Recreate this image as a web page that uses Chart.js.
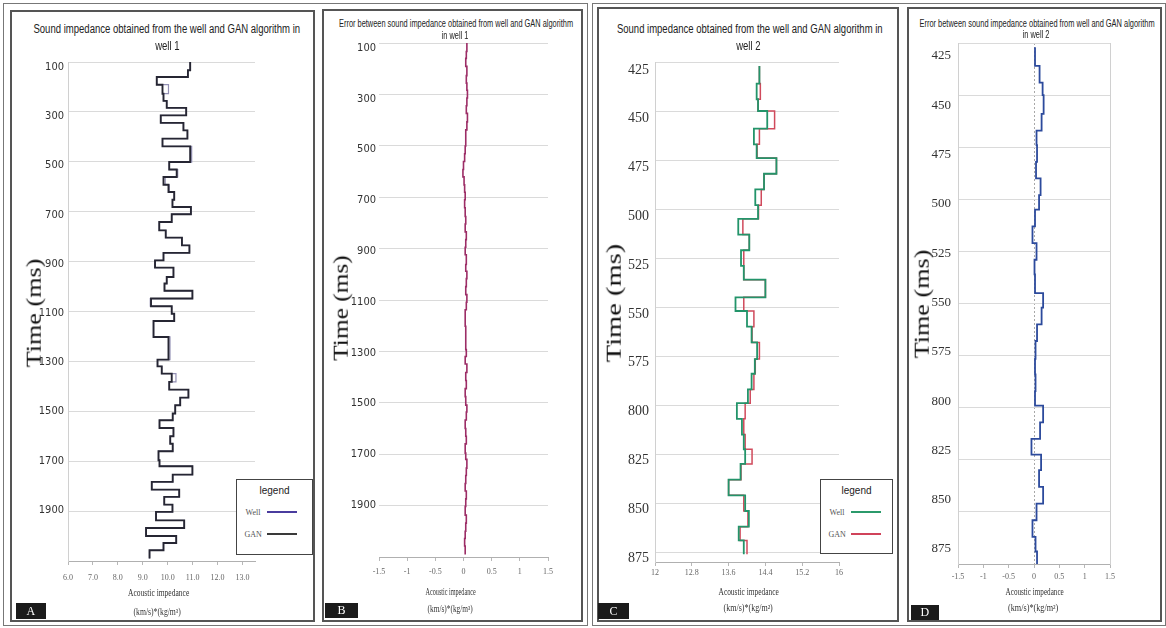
<!DOCTYPE html>
<html><head><meta charset="utf-8">
<script src="https://cdn.jsdelivr.net/npm/chart.js@4.4.1/dist/chart.umd.min.js"></script>
<style>
html,body{margin:0;padding:0;background:#fff;}
body{position:relative;width:1166px;height:628px;overflow:hidden;}
.frame{position:absolute;box-sizing:border-box;}
canvas{position:absolute;}
.tx{position:absolute;white-space:nowrap;line-height:1;transform-origin:50% 50%;}
</style></head><body>
<script>
// ---------------- DATA ----------------
// Panel A / B : well 1 (time in ms, acoustic impedance)
const timeTicks1 = [100,300,500,700,900,1100,1300,1500,1700,1900];
const timeLabels1 = ['100','300','500','700','900','1100','1300','1500','1700','1900'];
const impTicks1 = [6,7,8,9,10,11,12,13];
const impLabels1 = ['6.0','7.0','8.0','9.0','10.0','11.0','12.0','13.0'];
const errTicks = [-1.5,-1,-0.5,0,0.5,1,1.5];
const errLabels = ['-1.5','-1','-0.5','0','0.5','1','1.5'];

const timeA = [100,133,160,191,227,256,284,314,344,374,407,438,501,531,561,592,621,652,681,710,
  741,775,804,835,865,895,924,962,988,1017,1048,1079,1109,1138,1202,1293,1320,1349,1382,1413,
  1445,1476,1509,1536,1567,1600,1630,1660,1696,1720,1754,1783,1814,1843,1874,1903,1937,1968,2000,2028,
  2057,2090];
const ganA = [10.90,10.81,9.56,9.79,9.83,9.96,10.74,9.72,10.63,10.79,9.79,10.90,10.06,10.36,9.83,10.03,10.26,10.19,10.93,10.16,
  9.66,9.92,10.57,10.87,9.83,9.49,10.23,9.96,9.87,10.99,9.33,10.16,10.26,9.43,10.03,9.59,9.76,10.16,10.06,10.83,
  10.50,10.30,10.20,9.67,10.23,10.10,10.20,9.63,9.67,10.99,10.20,9.36,10.46,9.86,10.19,9.53,10.66,9.13,10.34,9.83,
  9.27,9.27];
const wellA = [10.90,10.81,9.56,10.03,9.83,9.96,10.74,9.72,10.63,10.79,9.79,10.96,10.06,10.40,9.90,10.06,10.26,10.19,10.93,10.16,
  9.66,9.92,10.57,10.87,9.83,9.49,10.23,9.96,9.87,10.99,9.30,10.16,10.26,9.43,10.09,9.59,9.76,10.33,10.06,10.83,
  10.50,10.30,10.20,9.67,10.23,10.10,10.20,9.63,9.67,10.99,10.20,9.36,10.46,9.86,10.19,9.53,10.66,9.13,10.34,9.83,
  9.27,9.27];
const errB = [0.06,0.05,0.04,0.06,0.05,0.06,0.07,0.06,0.05,0.07,0.06,0.04,0.03,0.02,0.00,-0.01,0.01,0.02,0.03,0.02,
  0.03,0.04,0.03,0.05,0.04,0.03,0.05,0.04,0.06,0.05,0.04,0.06,0.05,0.03,0.04,0.05,0.03,0.06,0.04,0.05,
  0.03,0.04,0.06,0.05,0.03,0.04,0.05,0.03,0.04,0.06,0.05,0.04,0.03,0.05,0.04,0.03,0.05,0.04,0.03,0.02,
  0.03,0.03];

// Panel C / D : well 2
const timeTicks2 = [425,450,475,500,525,550,575,600,625,650,675];
const timeLabels2 = ['425','450','475','500','525','550','575','800','825','850','875'];
const impTicks2 = [12,12.8,13.6,14.4,15.2,16];
const impLabels2 = ['12','12.8','13.6','14.4','15.2','16'];

const timeC = [427,436,444,450,459,467,474,482,490,498,505,513,521,529,536,545,552,560,568,576.5,
  584,592,599,607,615,622.5,630,638,646,654,662,669,676];
const wellC = [14.27,14.21,14.24,14.44,14.15,14.21,14.64,14.37,14.18,14.24,13.81,14.05,13.87,13.93,14.40,13.75,14.00,14.10,14.22,14.17,
  14.10,14.02,13.78,13.89,13.93,13.96,13.86,13.60,13.96,14.04,13.82,13.93,13.93];
const ganC = [14.27,14.29,14.24,14.60,14.27,14.22,14.64,14.37,14.31,14.25,13.91,14.05,13.93,13.93,14.40,13.93,14.15,14.11,14.27,14.18,
  14.15,14.07,13.96,13.93,13.96,14.11,13.87,13.60,13.93,14.02,13.85,14.00,14.00];
const errD = [0.02,0.11,0.17,0.19,0.15,0.05,0.06,0.04,0.13,0.10,0.02,-0.03,0.05,0.01,0.02,0.18,0.15,0.06,0.03,0.02,
  0.03,0.02,0.18,0.12,-0.05,0.14,0.10,0.18,0.05,-0.03,0.03,0.06,0.06];

// ---------------- HELPERS ----------------
function hasFont(f){
  const c=document.createElement('canvas').getContext('2d');
  const s='abcdefghijklmnopqrstuvwxyz0123456789';
  c.font='20px monospace'; const a=c.measureText(s).width;
  c.font='20px "'+f+'", monospace'; const b=c.measureText(s).width;
  return Math.abs(a-b)>0.5;
}
const SERIF='"Liberation Serif","DejaVu Serif",serif';
const SANS='"Liberation Sans","Open Sans",sans-serif';
let NARROW=SERIF;
for(const f of ['Liberation Sans Narrow','DejaVu Sans Condensed','Roboto Condensed']){ if(hasFont(f)){NARROW='"'+f+'"';break;} }

function box(x0,y0,x1,y1,border,bg){
  const d=document.createElement('div'); d.className='frame';
  Object.assign(d.style,{left:x0+'px',top:y0+'px',width:(x1-x0)+'px',height:(y1-y0)+'px',border:border||'none',background:bg||'transparent'});
  document.body.appendChild(d); return d;
}
function put(s,cx,cy,o){
  const d=document.createElement('div'); d.className='tx'; d.textContent=s;
  d.style.font=o.font; d.style.color=o.color||'#222';
  document.body.appendChild(d);
  const w=d.offsetWidth,h=d.offsetHeight;
  let sx=o.sx||1; if(o.w) sx=o.w/w;
  d.style.left=(cx-w/2)+'px'; d.style.top=(cy-h/2)+'px';
  d.style.transform=(o.rot?'rotate('+o.rot+'deg) ':'')+'scaleX('+sx+')';
  return sx;
}
function hline(x0,x1,y,col,wd){ box(x0,y-wd/2,x1,y+wd/2,null,col); }
function steps(times,vals){ return times.map((t,i)=>({x:vals[i],y:t})); }

function panelChart(g){
  const cv=document.createElement('canvas');
  cv.width=g.cw; cv.height=g.ch;
  Object.assign(cv.style,{left:g.cx+'px',top:g.cy+'px',width:g.cw+'px',height:g.ch+'px'});
  document.body.appendChild(cv);
  const nY=g.yticks.length;
  // label axis range so that first/last labels sit at the requested heights
  const [p0,p1]=g.ylab;
  const v0=g.yticks[0], v1=g.yticks[nY-1];
  const k=(v1-v0)/(p1-p0);
  const lmin=v0-(p0-g.ay0)*k, lmax=v1+(g.ay1-p1)*k;
  const scales={
    x:{type:'linear',position:'bottom',min:g.xmin,max:g.xmax,
      afterBuildTicks:s=>{s.ticks=g.xticks.map(v=>({value:v}));},
      afterFit:s=>{s.height=g.cy+g.ch-g.ay1;s.paddingLeft=0;s.paddingRight=0;},
      grid:Object.assign({display:true,drawOnChartArea:false,drawTicks:true,tickLength:4,tickColor:'#b8b8b8',color:'#b8b8b8'},g.xgrid||{}),
      border:Object.assign({display:true,color:'#b0b0b0',width:1},g.xborder||{}),
      ticks:{autoSkip:false,maxRotation:0,minRotation:0,font:{family:SERIF,size:8},color:'#666',padding:g.xpad,
        callback:(v,i)=>g.xlabels[i]}
    },
    y:{type:'linear',position:'left',reverse:true,min:g.ymin,max:g.ymax,weight:0,
      afterBuildTicks:s=>{s.ticks=g.yticks.map(v=>({value:v}));},
      afterFit:s=>{s.width=0;s.paddingTop=0;s.paddingBottom=0;},
      grid:{color:'#dadada',lineWidth:1,drawTicks:false},
      border:{display:g.yborder,color:'#d0d0d0'},
      ticks:{display:false}
    },
    yl:{type:'linear',position:'left',reverse:true,min:lmin,max:lmax,weight:1,
      afterBuildTicks:s=>{s.ticks=g.yticks.map(v=>({value:v}));},
      afterFit:s=>{s.width=g.ax0-g.cx;s.paddingTop=0;s.paddingBottom=0;},
      grid:{display:false,drawTicks:false,tickLength:0},border:{display:false},
      ticks:{autoSkip:false,font:g.yfont,color:'#333',padding:g.ypad,callback:(v,i)=>g.ylabels[i]}
    }
  };
  if(g.rightBorder){
    scales.y2={type:'linear',position:'right',reverse:true,min:g.ymin,max:g.ymax,
      afterFit:s=>{s.width=0;s.paddingTop=0;s.paddingBottom=0;},
      ticks:{display:false},grid:{display:false,drawTicks:false},border:{display:true,color:'#d0d0d0'}};
  }
  g.datasets.forEach(d=>{d.xAxisID='x';d.yAxisID='y';});
  return new Chart(cv,{
    type:'scatter',
    data:{datasets:g.datasets},
    options:{
      responsive:false,animation:false,devicePixelRatio:1,
      layout:{padding:{left:0,top:g.ay0-g.cy,right:g.cx+g.cw-g.ax1,bottom:0}},
      plugins:{legend:{display:false},tooltip:{enabled:false},title:{display:false}},
      elements:{point:{radius:0}},
      scales
    }
  });
}
function ds(data,color,width){
  return {data,showLine:true,stepped:'after',borderColor:color,borderWidth:width,pointRadius:0,fill:false,borderJoinStyle:'miter',borderCapStyle:'butt'};
}

// ---------------- FRAMES ----------------
box(3,3,588,626,'1px solid #777');
box(592,3,1166,626,'1px solid #777');
box(10,10,315,622,'2px solid #555');
box(322,9,583,622,'2px solid #555');
box(597,7,899,622,'2px solid #555');
box(907,7,1162,622,'2px solid #555');

// ---------------- CHARTS ----------------
panelChart({cx:12,cy:36,cw:300,ch:554,ax0:68,ax1:255,ay0:62,ay1:561,
  xmin:6,xmax:13.5,xticks:impTicks1,xlabels:impLabels1,xpad:8,
  ymin:100,ymax:2100,yticks:timeTicks1,ylabels:timeLabels1,ypad:4,ylab:[67,510],
  yfont:{family:NARROW,size:11},yborder:true,
  datasets:[ds(steps(timeA,ganA),'#262633',1.9),ds(steps(timeA,wellA),'#9390b4',1.2)]});

panelChart({cx:325,cy:30,cw:256,ch:560,ax0:379,ax1:548,ay0:43,ay1:557,
  xmin:-1.5,xmax:1.5,xticks:errTicks,xlabels:errLabels,xpad:6,
  ymin:100,ymax:2100,yticks:timeTicks1,ylabels:timeLabels1,ypad:3,ylab:[48,505],
  yfont:{family:NARROW,size:11},yborder:false,
  datasets:[ds(steps(timeA,errB),'#9c2d66',1.6)]});

panelChart({cx:600,cy:36,cw:297,ch:554,ax0:655,ax1:839,ay0:62,ay1:562,
  xmin:12,xmax:16,xticks:impTicks2,xlabels:impLabels2,xpad:2,
  ymin:425,ymax:680,yticks:timeTicks2,ylabels:timeLabels2,ypad:6,ylab:[70,558],
  yfont:{family:SERIF,size:14},yborder:true,
  datasets:[ds(steps(timeC,wellC),'#23946a',1.8),ds(steps(timeC,ganC),'#d04a5c',1.5)]});

panelChart({cx:910,cy:30,cw:250,ch:560,ax0:958,ax1:1110,ay0:43,ay1:564,
  xmin:-1.5,xmax:1.5,xticks:errTicks,xlabels:errLabels,xpad:4,
  ymin:425,ymax:675,yticks:timeTicks2,ylabels:timeLabels2,ypad:7,ylab:[56,549],
  yfont:{family:SERIF,size:13},yborder:true,rightBorder:true,
  xgrid:{drawOnChartArea:true,color:c=>(c.tick&&c.tick.value===0)?'#a8a8a8':'rgba(0,0,0,0)',tickColor:'#b8b8b8'},
  xborder:{dash:[2,2]},
  datasets:[ds(steps(timeC,errD),'#2c4a9c',1.8)]});

// ---------------- TEXTS ----------------
let s;
s=put('Sound impedance obtained from the well and GAN algorithm in',166.5,29,{font:'12px '+SANS,w:267});
put('well 1',167,46,{font:'12px '+SANS,sx:s});
s=put('Error between sound impedance obtained from well and GAN algorithm',456,23,{font:'10.5px '+SANS,w:234});
put('in well 1',455,34.5,{font:'10.5px '+SANS,sx:s});
s=put('Sound impedance obtained from the well and GAN algorithm in',750,29,{font:'12px '+SANS,w:266});
put('well 2',748,46,{font:'12px '+SANS,sx:s});
s=put('Error between sound impedance obtained from well and GAN algorithm',1037,23,{font:'10.5px '+SANS,w:235});
put('in well 2',1036,34,{font:'10.5px '+SANS,sx:s});

put('Time (ms)',33,313,{font:'22px '+SERIF,rot:-90,w:108,color:'#111'});
put('Time (ms)',340,308,{font:'22px '+SERIF,rot:-90,w:105,color:'#111'});
put('Time (ms)',613,303,{font:'22px '+SERIF,rot:-90,w:118,color:'#111'});
put('Time (ms)',921,304,{font:'22px '+SERIF,rot:-90,w:108,color:'#111'});

const xt=[[158.5,593,61,157,611.5,47,'(km/s)*(kg/m³)'],[450,592,50,450,609,45,'(km/s)*(kg/m³)'],
  [748,592,60,748,608,49,'(km/s)*(kg/m²)'],[1034,592,58,1033,608,50,'(km/s)*(kg/m²)']];
for(const r of xt){
  put('Acoustic impedance',r[0],r[1],{font:'9.5px '+SERIF,w:r[2],color:'#333'});
  put(r[6],r[3],r[4],{font:'9.5px '+SERIF,w:r[5],color:'#333'});
}

// panel letters
for(const [L,x0,y0,x1,y1] of [['A',16,603,46,619],['B',325,603,358,618],['C',598,603,629,619],['D',911,605,939,620]]){
  box(x0,y0,x1,y1,null,'#1b1b1b');
  put(L,(x0+x1)/2,(y0+y1)/2,{font:'12px '+SERIF,color:'#fff'});
}

// legends
function legendBox(x0,y0,x1,y1,items){
  box(x0,y0,x1,y1,'1px solid #444','#fff');
  put('legend',(x0+x1)/2,y0+11,{font:'10px '+SANS,color:'#222'});
  items.forEach((it,i)=>{
    const y=y0+33+i*22;
    put(it[0],x0+17,y,{font:'8px '+SERIF,color:'#555'});
    hline(x0+31,x0+61,y,it[1],it[2]);
  });
}
legendBox(236,479,313,555,[['Well','#4a3c9e',1.6],['GAN','#3a3a3a',2.6]]);
legendBox(820,479,893,554,[['Well','#2b9a6b',2],['GAN','#d0435a',2]]);
</script>
</body></html>
